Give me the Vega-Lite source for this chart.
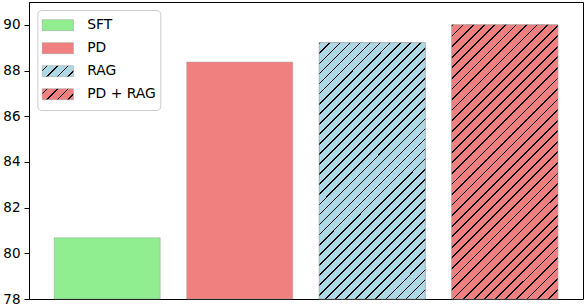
{
  "$schema": "https://vega.github.io/schema/vega-lite/v6.json",
  "width": 554,
  "height": 297,
  "autosize": "none",
  "padding": {"left": 29, "top": 2, "right": 3, "bottom": 5},
  "background": "white",
  "config": {"view": {"stroke": "black", "strokeWidth": 1}, "font": "DejaVu Sans"},
  "data": {"values": [
    {"method": "SFT", "score": 80.68},
    {"method": "PD", "score": 88.37},
    {"method": "RAG", "score": 89.22},
    {"method": "PD + RAG", "score": 90.0}
  ]},
  "encoding": {
    "x": {"field": "method", "type": "nominal", "sort": null, "scale": {"paddingInner": 0.2, "paddingOuter": 0.19}, "axis": null},
    "y": {"field": "score", "type": "quantitative", "scale": {"domain": [78, 91], "zero": false, "nice": false},
      "axis": {"values": [78, 80, 82, 84, 86, 88, 90], "grid": false, "title": null, "domainColor": "black", "tickColor": "black", "tickSize": 5, "labelPadding": 4, "labelFontSize": 13.5, "labelColor": "black", "labelFont": "DejaVu Sans"}},
    "y2": {"datum": 78}
  },
  "layer": [
    {
      "mark": {"type": "bar", "stroke": "#999999", "strokeOpacity": 0.45, "strokeWidth": 1},
      "encoding": {
        "fill": {
          "field": "method", "type": "nominal", "sort": null,
          "scale": {"domain": ["SFT", "PD", "RAG", "PD + RAG"], "range": [
            "#90EE90",
            "#F08080",
            {"expr": "{gradient:'linear',x1:0,y1:0,x2:1.2029,y2:0.4227,stops:[{offset:0,color:'#ADD8E6'},{offset:0.1,color:'#ADD8E6'},{offset:0.1,color:'#000'},{offset:0.14,color:'#000'},{offset:0.14,color:'#ADD8E6'},{offset:0.35,color:'#ADD8E6'},{offset:0.35,color:'#000'},{offset:0.39,color:'#000'},{offset:0.39,color:'#ADD8E6'},{offset:0.6,color:'#ADD8E6'},{offset:0.6,color:'#000'},{offset:0.64,color:'#000'},{offset:0.64,color:'#ADD8E6'},{offset:0.85,color:'#ADD8E6'},{offset:0.85,color:'#000'},{offset:0.89,color:'#000'},{offset:0.89,color:'#ADD8E6'},{offset:1,color:'#ADD8E6'}]}"},
            {"expr": "{gradient:'linear',x1:0,y1:0,x2:1.2029,y2:0.4227,stops:[{offset:0,color:'#F08080'},{offset:0.1,color:'#F08080'},{offset:0.1,color:'#000'},{offset:0.14,color:'#000'},{offset:0.14,color:'#F08080'},{offset:0.35,color:'#F08080'},{offset:0.35,color:'#000'},{offset:0.39,color:'#000'},{offset:0.39,color:'#F08080'},{offset:0.6,color:'#F08080'},{offset:0.6,color:'#000'},{offset:0.64,color:'#000'},{offset:0.64,color:'#F08080'},{offset:0.85,color:'#F08080'},{offset:0.85,color:'#000'},{offset:0.89,color:'#000'},{offset:0.89,color:'#F08080'},{offset:1,color:'#F08080'}]}"}
          ]},
          "legend": {
            "title": null,
            "orient": "none",
            "legendX": 8.3,
            "legendY": 8,
            "padding": 4,
            "clipHeight": 22.3,
            "rowPadding": 0,
            "symbolType": "M-1,-0.3514H1V0.3514H-1Z",
            "symbolSize": 980,
            "symbolStrokeColor": "#99999973",
            "symbolStrokeWidth": 1,
            "labelOffset": 12.9,
            "labelFontSize": 13.9,
            "labelFont": "DejaVu Sans",
            "labelColor": "black",
            "strokeColor": "#cccccc",
            "fillColor": "white",
            "cornerRadius": 4
          }
        }
      }
    },
    {
      "transform": [{"filter": "datum.method === 'RAG' || datum.method === 'PD + RAG'"}],
      "mark": {"type": "bar", "stroke": "#999999", "strokeOpacity": 0.45, "strokeWidth": 1},
      "encoding": {
        "fill": {
          "condition": {"test": "datum.method === 'RAG'", "value": {"gradient": "linear", "x1": 0, "y1": 0, "x2": 0.5, "y2": 1.207, "stops": [
            {"offset":0,"color":"#000"},{"offset":0.0047,"color":"#000"},{"offset":0.0047,"color":"#ADD8E6"},
            {"offset":0.0278,"color":"#ADD8E6"},{"offset":0.0278,"color":"#000"},{"offset":0.0325,"color":"#000"},{"offset":0.0325,"color":"#ADD8E6"},
            {"offset":0.0556,"color":"#ADD8E6"},{"offset":0.0556,"color":"#000"},{"offset":0.0603,"color":"#000"},{"offset":0.0603,"color":"#ADD8E6"},
            {"offset":0.0833,"color":"#ADD8E6"},{"offset":0.0833,"color":"#000"},{"offset":0.0880,"color":"#000"},{"offset":0.0880,"color":"#ADD8E6"},
            {"offset":0.1111,"color":"#ADD8E6"},{"offset":0.1111,"color":"#000"},{"offset":0.1158,"color":"#000"},{"offset":0.1158,"color":"#ADD8E6"},
            {"offset":0.1389,"color":"#ADD8E6"},{"offset":0.1389,"color":"#000"},{"offset":0.1436,"color":"#000"},{"offset":0.1436,"color":"#ADD8E6"},
            {"offset":0.1667,"color":"#ADD8E6"},{"offset":0.1667,"color":"#000"},{"offset":0.1714,"color":"#000"},{"offset":0.1714,"color":"#ADD8E6"},
            {"offset":0.1944,"color":"#ADD8E6"},{"offset":0.1944,"color":"#000"},{"offset":0.1991,"color":"#000"},{"offset":0.1991,"color":"#ADD8E6"},
            {"offset":0.2222,"color":"#ADD8E6"},{"offset":0.2222,"color":"#000"},{"offset":0.2269,"color":"#000"},{"offset":0.2269,"color":"#ADD8E6"},
            {"offset":0.25,"color":"#ADD8E6"},{"offset":0.25,"color":"#000"},{"offset":0.2547,"color":"#000"},{"offset":0.2547,"color":"#ADD8E6"},
            {"offset":0.2778,"color":"#ADD8E6"},{"offset":0.2778,"color":"#000"},{"offset":0.2825,"color":"#000"},{"offset":0.2825,"color":"#ADD8E6"},
            {"offset":0.3056,"color":"#ADD8E6"},{"offset":0.3056,"color":"#000"},{"offset":0.3103,"color":"#000"},{"offset":0.3103,"color":"#ADD8E6"},
            {"offset":0.3333,"color":"#ADD8E6"},{"offset":0.3333,"color":"#000"},{"offset":0.3380,"color":"#000"},{"offset":0.3380,"color":"#ADD8E6"},
            {"offset":0.3611,"color":"#ADD8E6"},{"offset":0.3611,"color":"#000"},{"offset":0.3658,"color":"#000"},{"offset":0.3658,"color":"#ADD8E6"},
            {"offset":0.3889,"color":"#ADD8E6"},{"offset":0.3889,"color":"#000"},{"offset":0.3936,"color":"#000"},{"offset":0.3936,"color":"#ADD8E6"},
            {"offset":0.4167,"color":"#ADD8E6"},{"offset":0.4167,"color":"#000"},{"offset":0.4214,"color":"#000"},{"offset":0.4214,"color":"#ADD8E6"},
            {"offset":0.4444,"color":"#ADD8E6"},{"offset":0.4444,"color":"#000"},{"offset":0.4491,"color":"#000"},{"offset":0.4491,"color":"#ADD8E6"},
            {"offset":0.4722,"color":"#ADD8E6"},{"offset":0.4722,"color":"#000"},{"offset":0.4769,"color":"#000"},{"offset":0.4769,"color":"#ADD8E6"},
            {"offset":0.5,"color":"#ADD8E6"},{"offset":0.5,"color":"#000"},{"offset":0.5047,"color":"#000"},{"offset":0.5047,"color":"#ADD8E6"},
            {"offset":0.5278,"color":"#ADD8E6"},{"offset":0.5278,"color":"#000"},{"offset":0.5325,"color":"#000"},{"offset":0.5325,"color":"#ADD8E6"},
            {"offset":0.5556,"color":"#ADD8E6"},{"offset":0.5556,"color":"#000"},{"offset":0.5603,"color":"#000"},{"offset":0.5603,"color":"#ADD8E6"},
            {"offset":0.5833,"color":"#ADD8E6"},{"offset":0.5833,"color":"#000"},{"offset":0.5880,"color":"#000"},{"offset":0.5880,"color":"#ADD8E6"},
            {"offset":0.6111,"color":"#ADD8E6"},{"offset":0.6111,"color":"#000"},{"offset":0.6158,"color":"#000"},{"offset":0.6158,"color":"#ADD8E6"},
            {"offset":0.6389,"color":"#ADD8E6"},{"offset":0.6389,"color":"#000"},{"offset":0.6436,"color":"#000"},{"offset":0.6436,"color":"#ADD8E6"},
            {"offset":0.6667,"color":"#ADD8E6"},{"offset":0.6667,"color":"#000"},{"offset":0.6714,"color":"#000"},{"offset":0.6714,"color":"#ADD8E6"},
            {"offset":0.6944,"color":"#ADD8E6"},{"offset":0.6944,"color":"#000"},{"offset":0.6991,"color":"#000"},{"offset":0.6991,"color":"#ADD8E6"},
            {"offset":0.7222,"color":"#ADD8E6"},{"offset":0.7222,"color":"#000"},{"offset":0.7269,"color":"#000"},{"offset":0.7269,"color":"#ADD8E6"},
            {"offset":0.75,"color":"#ADD8E6"},{"offset":0.75,"color":"#000"},{"offset":0.7547,"color":"#000"},{"offset":0.7547,"color":"#ADD8E6"},
            {"offset":0.7778,"color":"#ADD8E6"},{"offset":0.7778,"color":"#000"},{"offset":0.7825,"color":"#000"},{"offset":0.7825,"color":"#ADD8E6"},
            {"offset":0.8056,"color":"#ADD8E6"},{"offset":0.8056,"color":"#000"},{"offset":0.8103,"color":"#000"},{"offset":0.8103,"color":"#ADD8E6"},
            {"offset":0.8333,"color":"#ADD8E6"},{"offset":0.8333,"color":"#000"},{"offset":0.8380,"color":"#000"},{"offset":0.8380,"color":"#ADD8E6"},
            {"offset":0.8611,"color":"#ADD8E6"},{"offset":0.8611,"color":"#000"},{"offset":0.8658,"color":"#000"},{"offset":0.8658,"color":"#ADD8E6"},
            {"offset":0.8889,"color":"#ADD8E6"},{"offset":0.8889,"color":"#000"},{"offset":0.8936,"color":"#000"},{"offset":0.8936,"color":"#ADD8E6"},
            {"offset":0.9167,"color":"#ADD8E6"},{"offset":0.9167,"color":"#000"},{"offset":0.9214,"color":"#000"},{"offset":0.9214,"color":"#ADD8E6"},
            {"offset":0.9444,"color":"#ADD8E6"},{"offset":0.9444,"color":"#000"},{"offset":0.9491,"color":"#000"},{"offset":0.9491,"color":"#ADD8E6"},
            {"offset":0.9722,"color":"#ADD8E6"},{"offset":0.9722,"color":"#000"},{"offset":0.9769,"color":"#000"},{"offset":0.9769,"color":"#ADD8E6"},
            {"offset":1,"color":"#ADD8E6"}
          ]}},
          "value": {"gradient": "linear", "x1": 0, "y1": 0, "x2": 0.4663, "y2": 1.2063, "stops": [
            {"offset":0,"color":"#000"},{"offset":0.0047,"color":"#000"},{"offset":0.0047,"color":"#F08080"},
            {"offset":0.0278,"color":"#F08080"},{"offset":0.0278,"color":"#000"},{"offset":0.0325,"color":"#000"},{"offset":0.0325,"color":"#F08080"},
            {"offset":0.0556,"color":"#F08080"},{"offset":0.0556,"color":"#000"},{"offset":0.0603,"color":"#000"},{"offset":0.0603,"color":"#F08080"},
            {"offset":0.0833,"color":"#F08080"},{"offset":0.0833,"color":"#000"},{"offset":0.0880,"color":"#000"},{"offset":0.0880,"color":"#F08080"},
            {"offset":0.1111,"color":"#F08080"},{"offset":0.1111,"color":"#000"},{"offset":0.1158,"color":"#000"},{"offset":0.1158,"color":"#F08080"},
            {"offset":0.1389,"color":"#F08080"},{"offset":0.1389,"color":"#000"},{"offset":0.1436,"color":"#000"},{"offset":0.1436,"color":"#F08080"},
            {"offset":0.1667,"color":"#F08080"},{"offset":0.1667,"color":"#000"},{"offset":0.1714,"color":"#000"},{"offset":0.1714,"color":"#F08080"},
            {"offset":0.1944,"color":"#F08080"},{"offset":0.1944,"color":"#000"},{"offset":0.1991,"color":"#000"},{"offset":0.1991,"color":"#F08080"},
            {"offset":0.2222,"color":"#F08080"},{"offset":0.2222,"color":"#000"},{"offset":0.2269,"color":"#000"},{"offset":0.2269,"color":"#F08080"},
            {"offset":0.25,"color":"#F08080"},{"offset":0.25,"color":"#000"},{"offset":0.2547,"color":"#000"},{"offset":0.2547,"color":"#F08080"},
            {"offset":0.2778,"color":"#F08080"},{"offset":0.2778,"color":"#000"},{"offset":0.2825,"color":"#000"},{"offset":0.2825,"color":"#F08080"},
            {"offset":0.3056,"color":"#F08080"},{"offset":0.3056,"color":"#000"},{"offset":0.3103,"color":"#000"},{"offset":0.3103,"color":"#F08080"},
            {"offset":0.3333,"color":"#F08080"},{"offset":0.3333,"color":"#000"},{"offset":0.3380,"color":"#000"},{"offset":0.3380,"color":"#F08080"},
            {"offset":0.3611,"color":"#F08080"},{"offset":0.3611,"color":"#000"},{"offset":0.3658,"color":"#000"},{"offset":0.3658,"color":"#F08080"},
            {"offset":0.3889,"color":"#F08080"},{"offset":0.3889,"color":"#000"},{"offset":0.3936,"color":"#000"},{"offset":0.3936,"color":"#F08080"},
            {"offset":0.4167,"color":"#F08080"},{"offset":0.4167,"color":"#000"},{"offset":0.4214,"color":"#000"},{"offset":0.4214,"color":"#F08080"},
            {"offset":0.4444,"color":"#F08080"},{"offset":0.4444,"color":"#000"},{"offset":0.4491,"color":"#000"},{"offset":0.4491,"color":"#F08080"},
            {"offset":0.4722,"color":"#F08080"},{"offset":0.4722,"color":"#000"},{"offset":0.4769,"color":"#000"},{"offset":0.4769,"color":"#F08080"},
            {"offset":0.5,"color":"#F08080"},{"offset":0.5,"color":"#000"},{"offset":0.5047,"color":"#000"},{"offset":0.5047,"color":"#F08080"},
            {"offset":0.5278,"color":"#F08080"},{"offset":0.5278,"color":"#000"},{"offset":0.5325,"color":"#000"},{"offset":0.5325,"color":"#F08080"},
            {"offset":0.5556,"color":"#F08080"},{"offset":0.5556,"color":"#000"},{"offset":0.5603,"color":"#000"},{"offset":0.5603,"color":"#F08080"},
            {"offset":0.5833,"color":"#F08080"},{"offset":0.5833,"color":"#000"},{"offset":0.5880,"color":"#000"},{"offset":0.5880,"color":"#F08080"},
            {"offset":0.6111,"color":"#F08080"},{"offset":0.6111,"color":"#000"},{"offset":0.6158,"color":"#000"},{"offset":0.6158,"color":"#F08080"},
            {"offset":0.6389,"color":"#F08080"},{"offset":0.6389,"color":"#000"},{"offset":0.6436,"color":"#000"},{"offset":0.6436,"color":"#F08080"},
            {"offset":0.6667,"color":"#F08080"},{"offset":0.6667,"color":"#000"},{"offset":0.6714,"color":"#000"},{"offset":0.6714,"color":"#F08080"},
            {"offset":0.6944,"color":"#F08080"},{"offset":0.6944,"color":"#000"},{"offset":0.6991,"color":"#000"},{"offset":0.6991,"color":"#F08080"},
            {"offset":0.7222,"color":"#F08080"},{"offset":0.7222,"color":"#000"},{"offset":0.7269,"color":"#000"},{"offset":0.7269,"color":"#F08080"},
            {"offset":0.75,"color":"#F08080"},{"offset":0.75,"color":"#000"},{"offset":0.7547,"color":"#000"},{"offset":0.7547,"color":"#F08080"},
            {"offset":0.7778,"color":"#F08080"},{"offset":0.7778,"color":"#000"},{"offset":0.7825,"color":"#000"},{"offset":0.7825,"color":"#F08080"},
            {"offset":0.8056,"color":"#F08080"},{"offset":0.8056,"color":"#000"},{"offset":0.8103,"color":"#000"},{"offset":0.8103,"color":"#F08080"},
            {"offset":0.8333,"color":"#F08080"},{"offset":0.8333,"color":"#000"},{"offset":0.8380,"color":"#000"},{"offset":0.8380,"color":"#F08080"},
            {"offset":0.8611,"color":"#F08080"},{"offset":0.8611,"color":"#000"},{"offset":0.8658,"color":"#000"},{"offset":0.8658,"color":"#F08080"},
            {"offset":0.8889,"color":"#F08080"},{"offset":0.8889,"color":"#000"},{"offset":0.8936,"color":"#000"},{"offset":0.8936,"color":"#F08080"},
            {"offset":0.9167,"color":"#F08080"},{"offset":0.9167,"color":"#000"},{"offset":0.9214,"color":"#000"},{"offset":0.9214,"color":"#F08080"},
            {"offset":0.9444,"color":"#F08080"},{"offset":0.9444,"color":"#000"},{"offset":0.9491,"color":"#000"},{"offset":0.9491,"color":"#F08080"},
            {"offset":0.9722,"color":"#F08080"},{"offset":0.9722,"color":"#000"},{"offset":0.9769,"color":"#000"},{"offset":0.9769,"color":"#F08080"},
            {"offset":1,"color":"#F08080"}
          ]}
        }
      }
    }
  ]
}
